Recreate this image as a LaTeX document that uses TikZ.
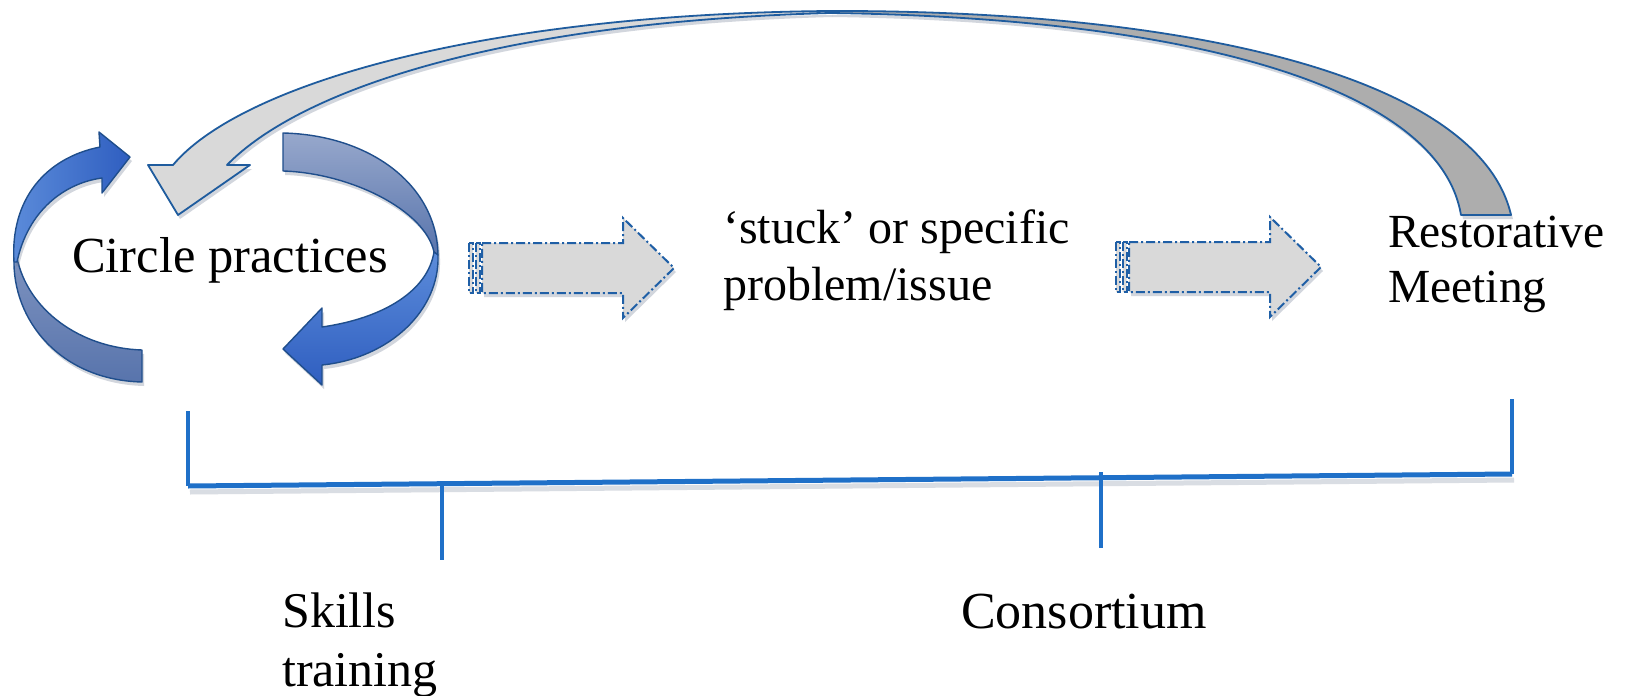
\documentclass[tikz,border=0pt]{standalone}
\usepackage{fontspec}
\setmainfont{Liberation Serif}
\usetikzlibrary{shadows}
\definecolor{bright}{HTML}{2F5EC0}
\definecolor{brightL}{HTML}{5C8CDA}
\definecolor{muted}{HTML}{7D92BF}
\definecolor{mutedD}{HTML}{5874AC}
\definecolor{edgeblue}{HTML}{1F4E8C}
\definecolor{grayedge}{HTML}{1F5C9E}
\definecolor{lightfill}{HTML}{D9D9D9}
\definecolor{darkfill}{HTML}{ADADAD}
\definecolor{bracketblue}{HTML}{1F70C8}
\definecolor{dashblue}{HTML}{1F5FA6}
\definecolor{shadowcol}{HTML}{6A7890}
\begin{document}
\begin{tikzpicture}[x=1pt,y=-1pt,
  shad/.style={drop shadow={shadow xshift=2pt,shadow yshift=-4pt,opacity=0.3,fill=shadowcol}},
  ribbon/.style={draw=edgeblue,line width=1.4pt,line join=round,shad},
  grayarrow/.style={draw=grayedge,line width=1.8pt,line join=round,shad},
  dashline/.style={draw=dashblue,line width=2pt,dash pattern=on 9pt off 3pt on 2pt off 3pt},
  brk/.style={draw=bracketblue,line width=3.2pt},
  txt/.style={inner sep=0pt,anchor=base west,font=\fontsize{49}{57}\selectfont},
  striparrow/.pic={
    \path[fill=lightfill,shad] (13,25) -- (154,25) -- (154,0) -- (205,50) -- (154,100) -- (154,75) -- (13,75) -- cycle;
    \path[fill=lightfill] (0,25) rectangle (4,75) (6.5,25) rectangle (10.5,75);
    \path[dashline] (0,25) rectangle (4,75);
    \path[dashline] (6.5,25) rectangle (10.5,75);
    \path[dashline] (13,25) -- (154,25) -- (154,0) -- (205,50) -- (154,100) -- (154,75) -- (13,75) -- cycle;
  }]
\useasboundingbox[fill=white] (0,0) rectangle (1626,696);

% circle of ribbon arrows
\path[ribbon,top color=muted,bottom color=mutedD]
  (14,258) .. controls (12,320) and (60,380) .. (142,382) -- (142,350)
  .. controls (80,348) and (28,310) .. (17,258) -- cycle;
\path[ribbon,left color=brightL,right color=bright]
  (14,262) .. controls (10,200) and (45,158) .. (100,147) -- (99,132) -- (130,157)
  -- (102,193) -- (102,178) .. controls (65,183) and (28,210) .. (17,262) -- cycle;
\path[ribbon,top color=muted!80!white,bottom color=mutedD]
  (283,133) .. controls (370,135) and (437,185) .. (438,255) -- (434,252)
  .. controls (425,210) and (350,173) .. (283,171) -- cycle;
\path[ribbon,top color=brightL,bottom color=bright]
  (438,255) .. controls (440,310) and (390,358) .. (322,365) -- (322,385) -- (283,349)
  -- (322,308) -- (322,327) .. controls (385,318) and (428,290) .. (434,252) -- cycle;

% big curved gray arrow
\path[grayarrow,fill=darkfill]
  (830,11) .. controls (1200,10) and (1480,80) .. (1511,215) -- (1461,215)
  .. controls (1440,90) and (1200,18) .. (830,13) -- cycle;
\path[grayarrow,fill=lightfill]
  (173,165) .. controls (240,85) and (480,14) .. (830,11) -- (830,13)
  .. controls (500,22) and (300,90) .. (227,165) -- (250,165) -- (178,215) -- (148,165) -- cycle;

% striped block arrows
\pic (arrowA) at (469,218) {striparrow};
\pic (arrowB) at (1116,217) {striparrow};

% texts
\node[txt,font=\fontsize{50.5}{57}\selectfont] (circ) at (72,272) {Circle practices};
\node[txt,font=\fontsize{48}{57}\selectfont] (stuck) at (723,243) {\begin{tabular}[t]{@{}l@{}}‘stuck’ or specific\\problem/issue\end{tabular}};
\node[txt,font=\fontsize{47.5}{55}\selectfont] (rest) at (1388,247) {\begin{tabular}[t]{@{}l@{}}Restorative\\Meeting\end{tabular}};
\node[txt,font=\fontsize{50}{59}\selectfont] (skills) at (282,627) {\begin{tabular}[t]{@{}l@{}}Skills\\training\end{tabular}};
\node[txt,font=\fontsize{52}{57}\selectfont] (cons) at (961,628) {Consortium};

% bracket
\coordinate (bl) at (188,411);
\coordinate (blc) at (188,486);
\coordinate (brc) at (1512,474);
\coordinate (br) at (1512,399);
\coordinate (t1a) at (442,484);
\coordinate (t1b) at (442,560);
\coordinate (t2a) at (1101,472);
\coordinate (t2b) at (1101,548);
\draw[shadowcol,opacity=0.25,line width=5pt] ([shift={(2,6)}]blc) -- ([shift={(2,6)}]brc);
\draw[brk] (bl) -- (blc);
\draw[brk,line width=5pt] (blc) -- (brc);
\draw[brk] (brc) -- (br);
\draw[brk] (t1a) -- (t1b);
\draw[brk] (t2a) -- (t2b);
\end{tikzpicture}
\end{document}
